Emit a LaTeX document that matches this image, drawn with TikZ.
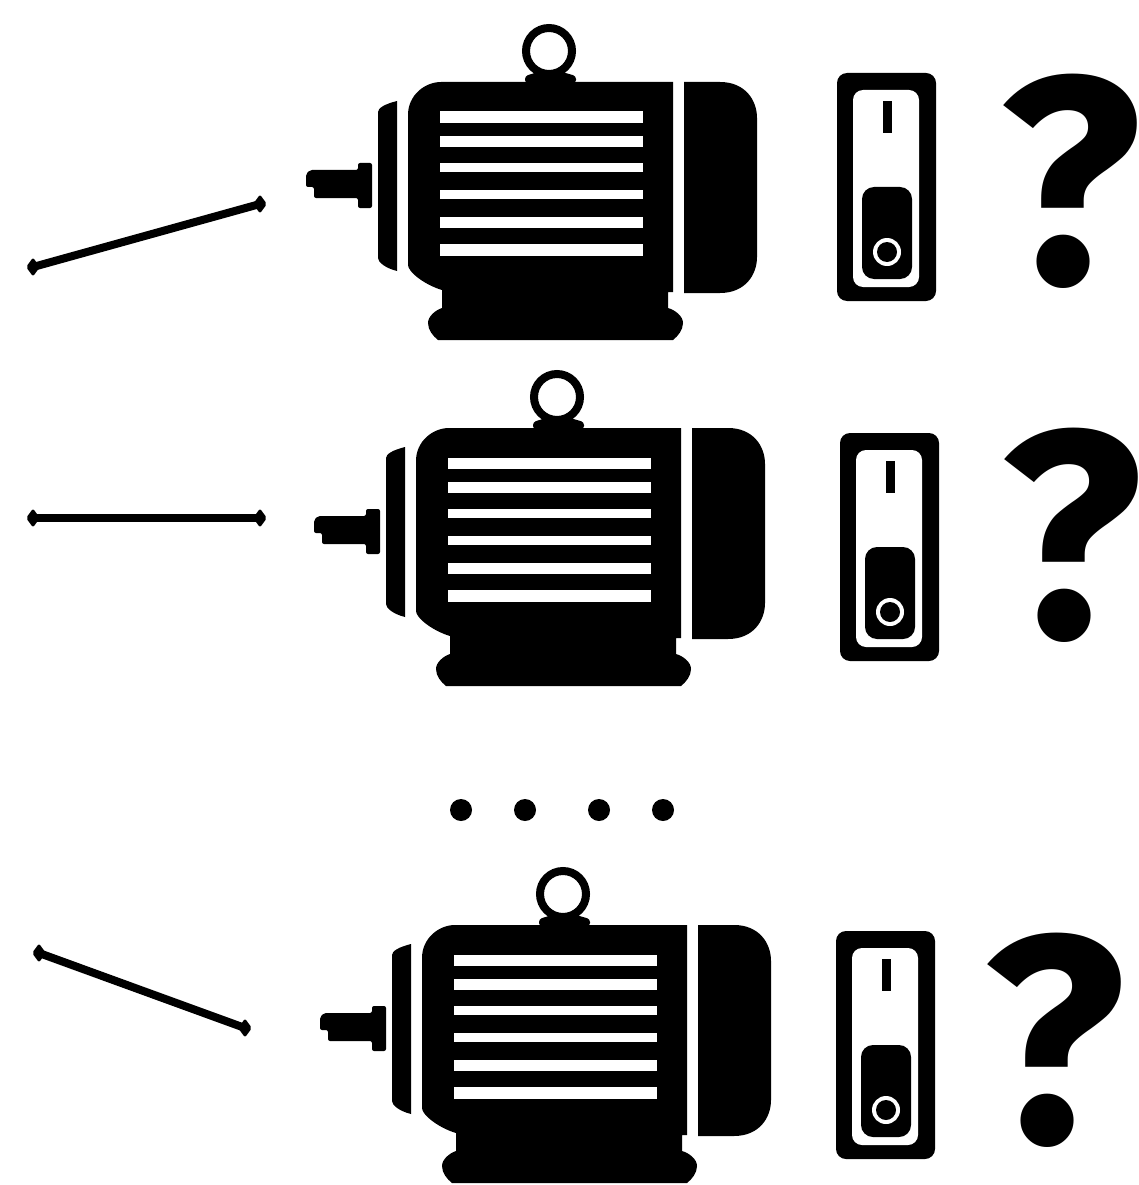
\documentclass[tikz,border=0pt]{standalone}
\usepackage{fontspec}
\usepackage{xcolor}
\usetikzlibrary{shapes.geometric}
\setmainfont{Fira Sans}

\begin{document}
\begin{tikzpicture}[
        x=1pt, y=-1pt,
        solid/.style={fill=black, draw=none},
        gap/.style={fill=white, draw=none},
        rodend/.style={diamond, fill=black, inner sep=0pt, minimum width=14pt, minimum height=19pt, rounded corners=2pt},
        rod/.style={line width=8pt, draw=black},
        dotmark/.style={circle, fill=black, inner sep=0pt, minimum size=22pt},
        query/.style={inner sep=0pt, font=\bfseries\fontsize{295}{295}\selectfont},
        motor/.pic={
            % lifting ring and its seat
            \draw [line width=8pt] (549,51) circle [radius=23];
            \path [solid, rounded corners=3pt] (525,83) -- (525,76) -- (538,72) -- (562,72) -- (576,76) -- (576,83) -- cycle;
            % shaft
            \path [solid, rounded corners=2pt] (306,174) -- (310,170) -- (358,170) -- (358,163) -- (372,163) -- (372,208) -- (358,208) -- (358,198) -- (314,198) -- (314,187) -- (306,187) -- cycle;
            % flange
            \path [solid] (397,101) -- (397,271) .. controls (385,268) and (378,262) .. (378,258) -- (378,112) .. controls (378,108) and (385,104) .. (397,101) -- cycle;
            % frame and feet
            \path [solid] (408,115) .. controls (408,95) and (425,82) .. (441,82) -- (673,82) -- (673,292) -- (668,292) -- (668,308)
                .. controls (675,310) and (683,316) .. (683,323) .. controls (683,330) and (678,336) .. (673,340) -- (438,340)
                .. controls (433,336) and (428,330) .. (428,323) .. controls (428,316) and (436,310) .. (442,308) -- (442,290)
                .. controls (425,285) and (408,272) .. (408,265) -- cycle;
            % fan cover
            \path [solid] (684,82) -- (720,82) .. controls (745,82) and (757,100) .. (757,118) -- (757,257) .. controls (757,275) and (745,293) .. (720,293) -- (684,293) -- cycle;
            % cooling fins
            \foreach \top/\bot in {111.5/123, 136/147, 163/172, 190/198.5, 217/228, 244/255.5}
                \path [gap] (440,\top) rectangle (643,\bot);
        },
        switchbox/.pic={
            \path [solid, rounded corners=10pt] (837,73) rectangle (936,301);
            \path [gap, rounded corners=10pt] (853,90) rectangle (919,287);
            \path [solid] (883,101) rectangle (892,133);
            \path [solid, rounded corners=12pt] (862,187) rectangle (912,279);
            \path [gap] (887,252) circle [radius=14];
            \path [solid] (887,252) circle [radius=10];
        }
    ]
    \useasboundingbox (0,0) rectangle (1139,1185);

    % motors
    \pic (motora) at (0,0) {motor};
    \pic (motorb) at (8,346) {motor};
    \pic (motorc) at (14,843) {motor};

    % switches
    \pic (switcha) at (0,0) {switchbox};
    \pic (switchb) at (3,360) {switchbox};
    \pic (switchc) at (-1,858) {switchbox};

    % question marks
    \node (querya) [query] at (1070,181) {?};
    \node (queryb) [query] at (1071,535) {?};
    \node (queryc) [query] at (1054,1040) {?};

    % rods
    \node (roda) [rodend] at (33,267) {};
    \node (rodb) [rodend] at (260,204) {};
    \node (rodc) [rodend] at (33,518) {};
    \node (rodd) [rodend] at (260,518) {};
    \node (rode) [rodend] at (39,953) {};
    \node (rodf) [rodend] at (245,1028) {};
    \draw [rod] (roda.center) -- (rodb.center);
    \draw [rod] (rodc.center) -- (rodd.center);
    \draw [rod] (rode.center) -- (rodf.center);

    % dots between the motors
    \foreach \name/\xpos in {dota/461, dotb/525, dotc/599, dotd/663}
        \node (\name) [dotmark] at (\xpos,810) {};
\end{tikzpicture}
\end{document}
